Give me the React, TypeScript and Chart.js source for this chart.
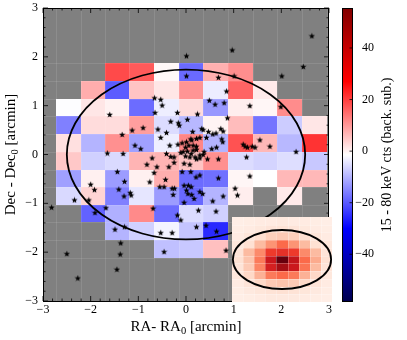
import React, { useEffect, useRef } from "react";
import { Chart, registerables } from "chart.js";

Chart.register(...registerables);

// ---------- data ----------
const colEdges = [-2.73, -2.21, -1.7, -1.19, -0.67, -0.15, 0.36, 0.88, 1.4, 1.91, 2.43, 2.95];
const rowEdges = [1.87, 1.5, 1.14, 0.78, 0.42, 0.06, -0.31, -0.67, -1.03, -1.39, -1.75, -2.11];
const N = null;
// background-subtracted counts per cell, top row first
const heatRows: (number | null)[][] = [
  [N, N, 18.7, 16.9, -0.7, -18.2, 7.3, 11.1, N, N, N],
  [N, 7.7, -19.7, 5.1, 1.3, 10.5, -3.6, 15.8, 0.8, N, N],
  [-1.7, 1.3, 0.0, -17.9, -3.4, 2.4, -13.0, 0.4, -0.5, 11.4, N],
  [-15.7, 2.4, 2.4, 9.3, -5.4, -9.4, -0.3, 6.0, -17.0, -7.2, 1.3],
  [2.0, -9.9, 10.9, -12.1, -3.4, 12.0, -9.9, 17.8, 6.4, -9.4, 21.3],
  [4.6, -6.8, -5.6, 6.9, 6.9, 5.1, 10.9, -5.4, -6.3, -5.2, -7.6],
  [-12.1, 0.2, -12.6, 0.2, 7.6, -17.9, -17.5, -0.5, -1.5, 6.4, 6.4],
  [-5.7, 3.3, -15.7, -4.3, -12.6, -18.4, -9.9, 0.4, N, 0.8, N],
  [N, -19.0, -10.3, 11.6, -17.9, -5.4, -6.8, N, N, N, N],
  [N, N, -9.9, -6.8, -2.7, -8.1, -25.3, N, N, N, N],
  [N, N, N, N, -8.5, -7.6, 5.5, N, N, N, N],
];
const vMin = -58.5;
const vMax = 55.5;

const starX = [
  2.64, 0.01, 0.97, 2.46, 2.01, 0.01, 0.68, 1.01, -0.66, -0.53, -0.5, -0.65, -0.18, 0.49, 0.61, 0.8, 0.85, 1.34, 1.99,
  -1.6, -0.32, -0.16, -0.14, 0.03, 0.24, 0.87, -0.9, -1.13, -0.59, -0.41, -1.34, -0.53, 0.33, 0.36, 0.73, 0.78, 0.47,
  0.56, 0.63, 0.43, 0.75, 0.77, -1.07, -0.95, -0.34, -0.17, -0.08, 0.01, 0.1, 0.06, -0.01, -0.06, 0.03, 0.11, -0.01,
  0.08, 0.14, 0.22, 0.29, 0.12, 0.15, 0.22, 0.15, 0.22, 0.38, 0.19, 0.29, 0.36, 0.54, 0.64, 0.68, 1.2, 1.24, 1.29, 1.39,
  1.45, 1.55, 1.76, 2.31, 1.27, 1.34, 1.03, 1.08, -1.65, -1.32, -0.71, -0.41, -0.32, -0.25, -0.11, -0.25, -0.82, -0.61,
  -0.36, -0.67, -0.43, -0.76, -0.04, 0.08, -1.44, -1.29, -2.0, -1.92, -2.34, -2.04, -1.41, -1.3, -1.17, -1.15, -1.68,
  -1.91, -0.69, -0.55, -0.46, -0.29, -0.24, -0.27, -0.04, 0.05, 0.01, 0.04, 0.12, -0.18, -0.11, 0.11, 0.17, 0.1, -0.08,
  -1.49, -1.29, -1.37, -1.38, -0.53, -0.29, -0.46, -2.5, 0.22, 0.29, 0.45, 0.21, 0.29, 0.68, 0.29, 0.35, 0.78, 0.56,
  0.26, 0.63, 0.22, 0.42, 0.64, 0.84, -2.82, -1.45, -2.27, -0.04,
];
const starY = [
  2.43, 2.02, 2.14, 1.8, 1.61, 1.61, 1.58, 1.61, 1.16, 1.13, 1.01, 0.86, 0.86, 1.11, 1.03, 1.06, 1.3, 1.0, 0.98,
  0.82, 0.68, 0.65, 0.6, 0.72, 0.83, 0.75, 0.55, 0.5, 0.52, 0.45, 0.41, 0.35, 0.53, 0.51, 0.53, 0.48, 0.47,
  0.42, 0.44, 0.35, 0.32, 0.26, 0.19, 0.12, 0.19, 0.21, 0.24, 0.26, 0.32, 0.19, 0.15, 0.06, 0.07, 0.02, -0.03,
  -0.05, 0.47, 0.33, 0.35, 0.3, 0.19, 0.17, 0.09, 0.1, 0.06, -0.05, -0.01, 0.0, 0.12, 0.15, -0.09, 0.21, 0.17, 0.15, 0.17,
  0.15, 0.3, 0.17, 0.06, -0.05, -0.44, -0.69, -0.83, 0.03, 0.02, -0.07, 0.02, -0.04, -0.05, 0.04, -0.16, -0.2, -0.25,
  -0.25, -0.37, -0.51, -0.56, -0.18, -0.2, -0.35, -0.55, -0.61, -0.72, -0.93, -0.93, -0.71, -0.85, -0.78, -0.83, -1.09,
  -1.19, -1.1, -0.66, -0.66, -0.69, -0.69, -0.82, -0.63, -0.63, -0.73, -0.8, -0.82, -1.24, -1.34, -0.66, -0.9, -0.35, -0.35,
  -1.53, -1.48, -1.81, -2.04, -1.6, -1.6, -1.99, -2.03, -0.09, -0.07, -0.09, -0.46, -0.42, -0.48, -0.76, -0.8, -0.85, -0.95,
  -1.14, -1.16, -1.48, -1.45, -1.57, -1.96, -1.08, -2.35, -2.53, -0.98,
];

// source region ellipse (arcmin)
const ellCx = 0.0;
const ellCy = 0.0;
const ellA = 2.5;
const ellB = 1.74;

const axisTicks = [-3, -2, -1, 0, 1, 2, 3];
const cbarTicks = [-40, -20, 0, 20, 40];

// inset PSF image (fraction of peak), top row first, 9 columns
const psfRows = [
  [0.04, 0.05, 0.06, 0.06, 0.07, 0.06, 0.06, 0.05, 0.04],
  [0.05, 0.06, 0.08, 0.1, 0.11, 0.1, 0.08, 0.06, 0.05],
  [0.06, 0.09, 0.13, 0.18, 0.2, 0.18, 0.13, 0.09, 0.06],
  [0.08, 0.12, 0.25, 0.37, 0.5, 0.37, 0.25, 0.12, 0.08],
  [0.1, 0.25, 0.4, 0.63, 0.66, 0.63, 0.4, 0.25, 0.1],
  [0.12, 0.22, 0.45, 0.75, 1.0, 0.78, 0.5, 0.3, 0.12],
  [0.1, 0.2, 0.42, 0.72, 0.875, 0.75, 0.47, 0.25, 0.1],
  [0.08, 0.15, 0.28, 0.45, 0.5, 0.45, 0.28, 0.15, 0.08],
  [0.06, 0.1, 0.15, 0.2, 0.22, 0.2, 0.15, 0.1, 0.06],
  [0.05, 0.07, 0.09, 0.11, 0.12, 0.11, 0.09, 0.07, 0.05],
  [0.04, 0.05, 0.06, 0.07, 0.07, 0.07, 0.06, 0.05, 0.04],
];
const insetEllA = 4.5;
const insetEllB = 3.82;

// ---------- helpers ----------
const SERIF = '"Liberation Serif", "DejaVu Serif", serif';

const seismicStops: [number, number[]][] = [
  [0, [0, 0, 76]],
  [0.25, [0, 0, 255]],
  [0.5, [255, 255, 255]],
  [0.75, [255, 0, 0]],
  [1, [128, 0, 0]],
];
const redsHex = ["#fff5f0", "#fee0d2", "#fcbba1", "#fc9272", "#fb6a4a", "#ef3b2c", "#cb181d", "#a50f15", "#67000d"];

function interp(stops: [number, number[]][], f: number) {
  f = Math.max(0, Math.min(1, f));
  for (let i = 0; i < stops.length - 1; i++) {
    const [f0, c0] = stops[i];
    const [f1, c1] = stops[i + 1];
    if (f <= f1) {
      const t = (f - f0) / (f1 - f0);
      const c = c0.map((v, k) => Math.round(v + (c1[k] - v) * t));
      return `rgb(${c[0]},${c[1]},${c[2]})`;
    }
  }
  const c = stops[stops.length - 1][1];
  return `rgb(${c[0]},${c[1]},${c[2]})`;
}
function seismic(v: number) {
  return interp(seismicStops, (v - vMin) / (vMax - vMin));
}
const redsStops: [number, number[]][] = redsHex.map((h, i) => [
  i / (redsHex.length - 1),
  [parseInt(h.slice(1, 3), 16), parseInt(h.slice(3, 5), 16), parseInt(h.slice(5, 7), 16)],
]);
function reds(f: number) {
  return interp(redsStops, f);
}
const fmt = (v: number) => (v < 0 ? "\u2212" + Math.abs(v) : String(v));

function makeStar(size: number) {
  const c = document.createElement("canvas");
  c.width = size;
  c.height = size;
  const g = c.getContext("2d")!;
  const R = size / 2 - 0.2;
  const r = R * 0.42;
  const cx = size / 2;
  const cy = size / 2 + 0.3;
  g.beginPath();
  for (let i = 0; i < 10; i++) {
    const ang = -Math.PI / 2 + (i * Math.PI) / 5;
    const rad = i % 2 === 0 ? R : r;
    g.lineTo(cx + rad * Math.cos(ang), cy + rad * Math.sin(ang));
  }
  g.closePath();
  g.fillStyle = "#000";
  g.fill();
  return c;
}

type Part = { t: string; sub?: boolean };
function drawParts(ctx: CanvasRenderingContext2D, parts: Part[], x: number, y: number, size: number) {
  const widths = parts.map((p) => {
    ctx.font = `${p.sub ? size * 0.7 : size}px ${SERIF}`;
    return ctx.measureText(p.t).width;
  });
  const total = widths.reduce((a, b) => a + b, 0);
  let cx = x - total / 2;
  ctx.textAlign = "left";
  ctx.textBaseline = "alphabetic";
  parts.forEach((p, i) => {
    ctx.font = `${p.sub ? size * 0.7 : size}px ${SERIF}`;
    ctx.fillText(p.t, cx, y + (p.sub ? size * 0.22 : 0));
    cx += widths[i];
  });
}

// ---------- plugins ----------
const mainPlugin = {
  id: "mainHeat",
  beforeDatasetsDraw(chart: any) {
    const { ctx, chartArea: a, scales } = chart;
    const x = scales.x;
    const y = scales.y;
    ctx.save();
    ctx.fillStyle = "#808080";
    ctx.fillRect(a.left, a.top, a.width, a.height);
    heatRows.forEach((row, r) =>
      row.forEach((v, c) => {
        if (v === null) return;
        const x0 = Math.round(x.getPixelForValue(colEdges[c]));
        const x1 = Math.round(x.getPixelForValue(colEdges[c + 1]));
        const y0 = Math.round(y.getPixelForValue(rowEdges[r]));
        const y1 = Math.round(y.getPixelForValue(rowEdges[r + 1]));
        ctx.fillStyle = seismic(v);
        ctx.fillRect(x0, y0, x1 - x0, y1 - y0);
      })
    );
    // faint cell seams
    ctx.strokeStyle = "rgba(255,255,255,0.1)";
    ctx.lineWidth = 1;
    ctx.beginPath();
    colEdges.forEach((e) => {
      const px = Math.round(x.getPixelForValue(e)) + 0.5;
      ctx.moveTo(px, a.top);
      ctx.lineTo(px, a.bottom);
    });
    rowEdges.forEach((e) => {
      const py = Math.round(y.getPixelForValue(e)) + 0.5;
      ctx.moveTo(a.left, py);
      ctx.lineTo(a.right, py);
    });
    ctx.stroke();
    // ellipse
    const cx = x.getPixelForValue(ellCx);
    const cy = y.getPixelForValue(ellCy);
    const rx = Math.abs(x.getPixelForValue(ellCx + ellA) - cx);
    const ry = Math.abs(y.getPixelForValue(ellCy + ellB) - cy);
    ctx.beginPath();
    ctx.ellipse(cx, cy, rx, ry, 0, 0, Math.PI * 2);
    ctx.strokeStyle = "#000";
    ctx.lineWidth = 1.8;
    ctx.stroke();
    ctx.restore();
  },
  afterDatasetsDraw(chart: any) {
    const { ctx, chartArea: a, scales } = chart;
    const x = scales.x;
    const y = scales.y;
    ctx.save();
    ctx.strokeStyle = "#000";
    ctx.lineWidth = 0.8;
    ctx.beginPath();
    const minor: number[] = [];
    for (let k = -15; k <= 15; k++) if (k % 5 !== 0) minor.push(k / 5);
    const addTicks = (vals: number[], len: number) => {
      vals.forEach((v) => {
        const px = x.getPixelForValue(v);
        ctx.moveTo(px, a.bottom);
        ctx.lineTo(px, a.bottom - len);
        ctx.moveTo(px, a.top);
        ctx.lineTo(px, a.top + len);
        const py = y.getPixelForValue(v);
        ctx.moveTo(a.left, py);
        ctx.lineTo(a.left + len, py);
        ctx.moveTo(a.right, py);
        ctx.lineTo(a.right - len, py);
      });
    };
    addTicks(axisTicks, 5);
    addTicks(minor, 2.5);
    ctx.stroke();
    ctx.lineWidth = 1;
    ctx.strokeRect(a.left + 0.5, a.top + 0.5, a.width - 1, a.height);
    ctx.restore();
  },
  afterDraw(chart: any) {
    const { ctx, chartArea: a, scales } = chart;
    const x = scales.x;
    const y = scales.y;
    ctx.save();
    ctx.fillStyle = "#000";
    ctx.font = `12px ${SERIF}`;
    ctx.textAlign = "center";
    ctx.textBaseline = "alphabetic";
    axisTicks.forEach((v) => ctx.fillText(fmt(v), x.getPixelForValue(v), a.bottom + 12));
    ctx.textAlign = "right";
    ctx.textBaseline = "middle";
    axisTicks.forEach((v) => ctx.fillText(fmt(v), a.left - 5, y.getPixelForValue(v)));
    drawParts(ctx, [{ t: "RA- RA" }, { t: "0", sub: true }, { t: " [arcmin]" }], (a.left + a.right) / 2, 331, 15);
    ctx.translate(15, (a.top + a.bottom) / 2);
    ctx.rotate(-Math.PI / 2);
    drawParts(ctx, [{ t: "Dec - Dec" }, { t: "0", sub: true }, { t: " [arcmin]" }], 0, 0, 15);
    ctx.restore();
  },
};

const insetPlugin = {
  id: "insetPsf",
  beforeDatasetsDraw(chart: any) {
    const { ctx, chartArea: a, scales } = chart;
    const x = scales.x;
    const y = scales.y;
    const nc = psfRows[0].length;
    const nr = psfRows.length;
    ctx.save();
    psfRows.forEach((row, r) =>
      row.forEach((v, c) => {
        const xv0 = c - nc / 2;
        const yv0 = nr / 2 - r;
        const x0 = Math.round(x.getPixelForValue(xv0));
        const x1 = Math.round(x.getPixelForValue(xv0 + 1));
        const y0 = Math.round(y.getPixelForValue(yv0));
        const y1 = Math.round(y.getPixelForValue(yv0 - 1));
        ctx.fillStyle = reds(v);
        ctx.fillRect(x0, y0, x1 - x0, y1 - y0);
      })
    );
    ctx.strokeStyle = "rgba(255,255,255,0.25)";
    ctx.lineWidth = 1;
    ctx.beginPath();
    for (let c = 1; c < nc; c++) {
      const px = Math.round(x.getPixelForValue(c - nc / 2)) + 0.5;
      ctx.moveTo(px, a.top);
      ctx.lineTo(px, a.bottom);
    }
    for (let r = 1; r < nr; r++) {
      const py = Math.round(y.getPixelForValue(nr / 2 - r)) + 0.5;
      ctx.moveTo(a.left, py);
      ctx.lineTo(a.right, py);
    }
    ctx.stroke();
    const cx = x.getPixelForValue(0);
    const cy = y.getPixelForValue(0);
    const rx = Math.abs(x.getPixelForValue(insetEllA) - cx);
    const ry = Math.abs(y.getPixelForValue(insetEllB) - cy);
    ctx.beginPath();
    ctx.ellipse(cx, cy, rx - 0.9, ry, 0, 0, Math.PI * 2);
    ctx.strokeStyle = "#000";
    ctx.lineWidth = 1.8;
    ctx.stroke();
    ctx.restore();
  },
};

const cbarPlugin = {
  id: "cbar",
  afterDraw(chart: any) {
    const { ctx, chartArea: a, scales } = chart;
    const y = scales.y;
    ctx.save();
    const yTop = y.getPixelForValue(vMax);
    const yBot = y.getPixelForValue(vMin);
    const g = ctx.createLinearGradient(0, yBot, 0, yTop);
    seismicStops.forEach(([f, c]) => g.addColorStop(f, `rgb(${c[0]},${c[1]},${c[2]})`));
    ctx.fillStyle = g;
    ctx.fillRect(a.left, yTop, a.right - a.left, yBot - yTop);
    ctx.strokeStyle = "#000";
    ctx.lineWidth = 1;
    ctx.strokeRect(a.left + 0.5, yTop + 0.5, a.right - a.left - 1, yBot - yTop - 1);
    ctx.lineWidth = 0.8;
    ctx.beginPath();
    cbarTicks.forEach((v) => {
      const py = y.getPixelForValue(v);
      ctx.moveTo(a.right, py);
      ctx.lineTo(a.right - 3.5, py);
    });
    ctx.stroke();
    ctx.fillStyle = "#000";
    ctx.font = `12px ${SERIF}`;
    ctx.textBaseline = "middle";
    cbarTicks.forEach((v) => {
      const py = y.getPixelForValue(v);
      ctx.textAlign = "left";
      ctx.fillText(String(Math.abs(v)), a.right + 9, py);
      if (v < 0) {
        ctx.textAlign = "right";
        ctx.fillText("\u2212", a.right + 9, py);
      }
    });
    ctx.translate(61, (yTop + yBot) / 2);
    ctx.rotate(-Math.PI / 2);
    drawParts(ctx, [{ t: "15 - 80 keV cts (back. sub.)" }], 0, 0, 14);
    ctx.restore();
  },
};

export default function App() {
  const mainRef = useRef<HTMLCanvasElement>(null);
  const insetRef = useRef<HTMLCanvasElement>(null);
  const cbarRef = useRef<HTMLCanvasElement>(null);

  useEffect(() => {
    const star = makeStar(7);
    const main = new Chart(mainRef.current!, {
      type: "scatter",
      data: {
        datasets: [
          {
            data: starX.map((v, i) => ({ x: v, y: starY[i] })),
            pointStyle: star as any,
            pointRadius: 3.5,
            backgroundColor: "#000",
            borderColor: "#000",
          },
        ],
      },
      options: {
        responsive: false,
        animation: false,
        events: [],
        layout: { padding: { left: 43, right: 78, top: 8, bottom: 39 } },
        plugins: { legend: { display: false }, tooltip: { enabled: false } },
        scales: {
          x: { type: "linear", min: -3, max: 3, display: false },
          y: { type: "linear", min: -3, max: 3, display: false },
        },
      },
      plugins: [mainPlugin],
    });
    const cbar = new Chart(cbarRef.current!, {
      type: "scatter",
      data: { datasets: [] },
      options: {
        responsive: false,
        animation: false,
        events: [],
        layout: { padding: { left: 12, right: 54, top: 8, bottom: 38 } },
        plugins: { legend: { display: false }, tooltip: { enabled: false } },
        scales: {
          x: { type: "linear", min: 0, max: 1, display: false },
          y: { type: "linear", min: vMin, max: vMax, display: false },
        },
      },
      plugins: [cbarPlugin],
    });
    const inset = new Chart(insetRef.current!, {
      type: "scatter",
      data: { datasets: [] },
      options: {
        responsive: false,
        animation: false,
        events: [],
        layout: { padding: 0 },
        plugins: { legend: { display: false }, tooltip: { enabled: false } },
        scales: {
          x: { type: "linear", min: -4.5, max: 4.5, display: false },
          y: { type: "linear", min: -5.5, max: 5.5, display: false },
        },
      },
      plugins: [insetPlugin],
    });
    return () => {
      main.destroy();
      cbar.destroy();
      inset.destroy();
    };
  }, []);

  return (
    <div style={{ position: "fixed", left: 0, top: 0, width: 407, height: 340, background: "#fff" }}>
      <canvas ref={mainRef} width={407} height={340} style={{ position: "absolute", left: 0, top: 0 }} />
      <canvas ref={cbarRef} width={77} height={340} style={{ position: "absolute", left: 330, top: 0 }} />
      <canvas ref={insetRef} width={100} height={85} style={{ position: "absolute", left: 232, top: 217 }} />
    </div>
  );
}
